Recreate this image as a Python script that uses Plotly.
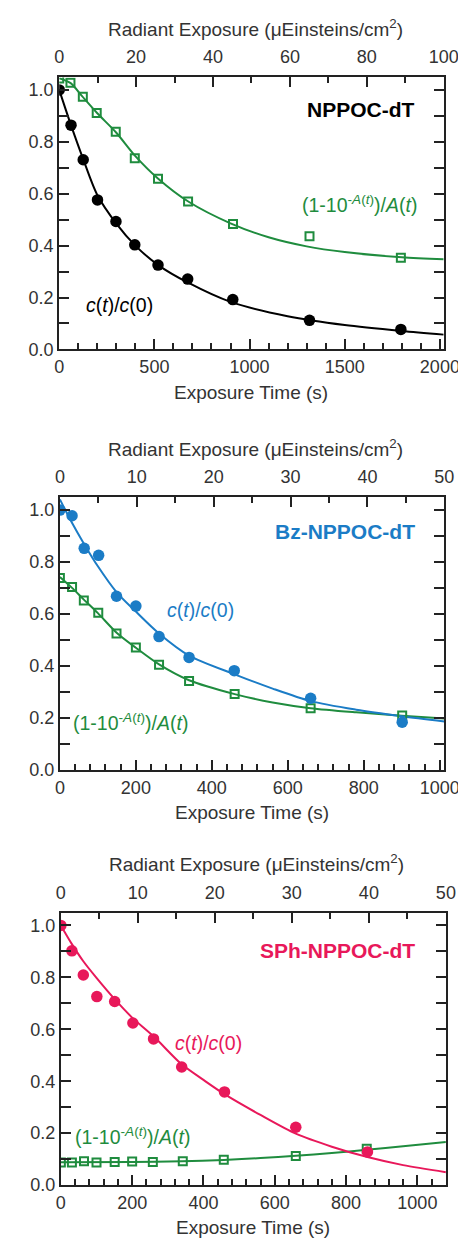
import plotly.graph_objects as go

# ---------------- DATA ----------------
# Panel 1: NPPOC-dT
t1_ct = [0, 62, 126, 201, 298, 397, 519, 675, 912, 1315, 1795]
ct1 = [1.0, 0.864, 0.731, 0.576, 0.493, 0.403, 0.325, 0.271, 0.192, 0.112, 0.077]
t1_ab = [0, 59, 124, 197, 297, 397, 519, 677, 913, 1315, 1795]
ab1 = [1.044, 1.028, 0.974, 0.911, 0.839, 0.737, 0.658, 0.570, 0.483, 0.436, 0.353]
t1_ct_fit = [0, 60, 125, 200, 300, 400, 520, 680, 900, 1200, 1500, 1800, 2020]
ct1_fit = [1.0, 0.868, 0.735, 0.595, 0.485, 0.400, 0.325, 0.256, 0.183, 0.128, 0.094, 0.071, 0.057]
t1_ab_fit = [0, 60, 120, 200, 300, 400, 520, 680, 900, 1100, 1300, 1500, 1800, 2020]
ab1_fit = [1.045, 1.026, 0.976, 0.910, 0.835, 0.745, 0.658, 0.569, 0.486, 0.432, 0.397, 0.375, 0.355, 0.347]

# Panel 2: Bz-NPPOC-dT
t2_ct = [0, 32, 64, 102, 149, 200, 261, 340, 459, 660, 901]
ct2 = [0.999, 0.977, 0.852, 0.825, 0.668, 0.630, 0.513, 0.433, 0.382, 0.276, 0.184]
t2_ab = [0, 32, 63, 101, 149, 200, 261, 340, 460, 660, 901]
ab2 = [0.738, 0.703, 0.652, 0.605, 0.525, 0.471, 0.405, 0.342, 0.292, 0.238, 0.210]
t2_ct_fit = [0, 30, 64, 100, 150, 200, 260, 340, 460, 560, 660, 780, 900, 1012]
ct2_fit = [1.04, 0.955, 0.868, 0.783, 0.682, 0.609, 0.526, 0.440, 0.368, 0.313, 0.265, 0.232, 0.207, 0.187]
t2_ab_fit = [0, 32, 63, 100, 150, 200, 260, 340, 460, 560, 660, 780, 900, 1012]
ab2_fit = [0.742, 0.700, 0.655, 0.603, 0.527, 0.470, 0.407, 0.345, 0.292, 0.260, 0.238, 0.222, 0.209, 0.198]

# Panel 3: SPh-NPPOC-dT
t3_ct = [0, 31, 63, 101, 151, 202, 260, 339, 459, 659, 860]
ct3 = [1.0, 0.902, 0.809, 0.726, 0.707, 0.624, 0.563, 0.455, 0.359, 0.223, 0.128]
t3_ab = [0, 31, 65, 100, 151, 200, 258, 342, 457, 659, 858]
ab3 = [0.087, 0.087, 0.092, 0.087, 0.089, 0.091, 0.089, 0.092, 0.098, 0.112, 0.140]
t3_ct_fit = [0, 31, 63, 100, 151, 200, 260, 339, 400, 459, 560, 659, 760, 860, 960, 1080]
ct3_fit = [1.0, 0.928, 0.862, 0.798, 0.716, 0.645, 0.573, 0.465, 0.405, 0.350, 0.270, 0.198, 0.148, 0.108, 0.077, 0.050]
t3_ab_fit = [0, 200, 340, 457, 560, 659, 760, 858, 960, 1080]
ab3_fit = [0.088, 0.089, 0.092, 0.097, 0.104, 0.113, 0.124, 0.136, 0.150, 0.166]

# axis ranges / ticks
x1_range = [0, 2020]; x1_top = [0, 100]
x2_range = [0, 1012]; x2_top = [0, 50]
x3_range = [0, 1080]; x3_top = [0, 50]
y_range = [0, 1.048]

labels = ["NPPOC-dT", "Bz-NPPOC-dT", "SPh-NPPOC-dT"]

# ---------------- STYLE ----------------
BLACK = "#000000"
GREEN = "#1f8c3e"
BLUE = "#1b7cc6"
PINK = "#e8185a"
AX = "#222222"
TXT = "#333333"
FONT = "Arial, Liberation Sans, Helvetica, sans-serif"
W, H = 466, 1239

# pixel boxes of the three panels (left, right, top, bottom)
boxes = [(48.3, 450.0, 70.0, 344.2), (49.0, 450.7, 493.3, 768.3), (50.0, 452.3, 912.3, 1186.7)]

fig = go.Figure()

def add_panel(i, tc, c, ta, a, tcf, cf, taf, af, ccol):
    xb = "x" if i == 0 else f"x{2*i+1}"
    yb = "y" if i == 0 else f"y{i+1}"
    xt = f"x{2*i+2}"
    fig.add_trace(go.Scatter(x=taf, y=af, mode="lines", line=dict(color=GREEN, width=2, shape="spline", smoothing=0.8),
                             xaxis=xb, yaxis=yb, showlegend=False, hoverinfo="skip"))
    fig.add_trace(go.Scatter(x=tcf, y=cf, mode="lines", line=dict(color=ccol, width=2, shape="spline", smoothing=0.8),
                             xaxis=xb, yaxis=yb, showlegend=False, hoverinfo="skip"))
    fig.add_trace(go.Scatter(x=ta, y=a, mode="markers",
                             marker=dict(symbol="square-open", size=8, color=GREEN, line=dict(width=2, color=GREEN)),
                             xaxis=xb, yaxis=yb, showlegend=False))
    fig.add_trace(go.Scatter(x=tc, y=c, mode="markers",
                             marker=dict(symbol="circle", size=11.5, color=ccol),
                             xaxis=xb, yaxis=yb, showlegend=False))
    fig.add_trace(go.Scatter(x=[0], y=[None], mode="markers", xaxis=xt, yaxis=yb, showlegend=False, hoverinfo="skip"))

add_panel(0, t1_ct, ct1, t1_ab, ab1, t1_ct_fit, ct1_fit, t1_ab_fit, ab1_fit, BLACK)
add_panel(1, t2_ct, ct2, t2_ab, ab2, t2_ct_fit, ct2_fit, t2_ab_fit, ab2_fit, BLUE)
add_panel(2, t3_ct, ct3, t3_ab, ab3, t3_ct_fit, ct3_fit, t3_ab_fit, ab3_fit, PINK)

common = dict(showline=True, linecolor=AX, linewidth=2, ticks="inside", ticklen=10, tickwidth=2,
              tickcolor=AX, showgrid=False, zeroline=False,
              tickfont=dict(family=FONT, size=18, color=TXT))

layout = dict(width=W, height=H, margin=dict(l=0, r=0, t=0, b=0),
              paper_bgcolor="white", plot_bgcolor="white", showlegend=False)

specs = [(x1_range, 500, 100, x1_top, 20, 10),
         (x2_range, 200, 40, x2_top, 10, 5),
         (x3_range, 200, 40, x3_top, 10, 5)]

annotations = []
for i, ((l, r, t, b), (xr, dt, mdt, xtr, tdt, tmdt)) in enumerate(zip(boxes, specs)):
    xd = [l / W, r / W]
    yd = [1 - b / H, 1 - t / H]
    xb_name = "xaxis" if i == 0 else f"xaxis{2*i+1}"
    xt_name = f"xaxis{2*i+2}"
    yb_name = "yaxis" if i == 0 else f"yaxis{i+1}"
    yref = "y" if i == 0 else f"y{i+1}"
    xbref = "x" if i == 0 else f"x{2*i+1}"
    layout[xb_name] = dict(common, domain=xd, range=xr, dtick=dt, tick0=0, anchor=yref,
                           minor=dict(ticks="inside", ticklen=6, tickwidth=1.5, tickcolor=AX, dtick=mdt, tick0=0, showgrid=False))
    layout[xt_name] = dict(common, domain=xd, range=xtr, dtick=tdt, tick0=0, anchor=yref, side="top",
                           overlaying=xbref, ticklabelstandoff=5,
                           minor=dict(ticks="inside", ticklen=6, tickwidth=1.5, tickcolor=AX, dtick=tmdt, tick0=0, showgrid=False))
    layout[yb_name] = dict(common, domain=yd, range=y_range, dtick=0.2, tick0=0, tickformat=".1f",
                           anchor=xbref, mirror="allticks",
                           minor=dict(ticks="inside", ticklen=6, tickwidth=1.5, tickcolor=AX, dtick=0.1, tick0=0, showgrid=False))
    xc = ((l + r) / 2) / W
    annotations.append(dict(xref="paper", yref="paper", x=xc + 0.008, y=1 - (t - 50) / H, xanchor="center", yanchor="middle",
                            text="Radiant Exposure (\u03bcEinsteins/cm<sup>2</sup>)", showarrow=False,
                            font=dict(family=FONT, size=19, color=TXT)))
    annotations.append(dict(xref="paper", yref="paper", x=xc, y=1 - (b + 43) / H, xanchor="center", yanchor="middle",
                            text="Exposure Time (s)", showarrow=False,
                            font=dict(family=FONT, size=19, color=TXT)))

ct_text = "<i>c</i>(<i>t</i>)/<i>c</i>(0)"
ab_text = "(1-10<sup>-<i>A</i>(<i>t</i>)</sup>)/<i>A</i>(<i>t</i>)"

ann_specs = [
    ("x", "y", 1880, 0.925, BLACK, 128, 0.172, 1263, 0.56),
    ("x3", "y2", 940, 0.915, BLUE, 276, 0.616, 30, 0.185),
    ("x5", "y3", 1000, 0.905, PINK, 315, 0.548, 34, 0.19),
]
for (xr_, yr_, lx, ly, col, cx, cy, ax_, ay_), lab in zip(ann_specs, labels):
    annotations.append(dict(xref=xr_, yref=yr_, x=lx, y=ly, xanchor="right", yanchor="middle", text=f"<b>{lab}</b>",
                            showarrow=False, font=dict(family=FONT, size=21, color=col)))
    annotations.append(dict(xref=xr_, yref=yr_, x=cx, y=cy, xanchor="left", yanchor="middle", text=ct_text,
                            showarrow=False, font=dict(family=FONT, size=19.5, color=col)))
    annotations.append(dict(xref=xr_, yref=yr_, x=ax_, y=ay_, xanchor="left", yanchor="middle", text=ab_text,
                            showarrow=False, font=dict(family=FONT, size=19.5, color=GREEN)))

layout["annotations"] = annotations
fig.update_layout(**layout)
fig.write_html("out.html")
